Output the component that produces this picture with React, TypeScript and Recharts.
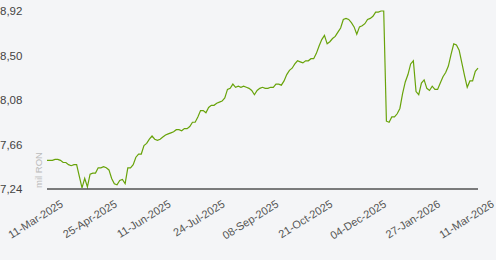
import { Line, LineChart, XAxis, YAxis } from "recharts";

const dateLabels = [
  "11-Mar-2025",
  "25-Apr-2025",
  "11-Jun-2025",
  "24-Jul-2025",
  "08-Sep-2025",
  "21-Oct-2025",
  "04-Dec-2025",
  "27-Jan-2026",
  "11-Mar-2026",
];

const yTicks = [7.24, 7.66, 8.08, 8.5, 8.92];

// mil RON, one point every ~2 trading days
const values = [
  7.51, 7.51, 7.51, 7.52, 7.52, 7.51, 7.49, 7.49, 7.47, 7.46,
  7.47, 7.47, 7.36, 7.25, 7.34, 7.26, 7.38, 7.39, 7.39, 7.44,
  7.44, 7.45, 7.44, 7.42, 7.34, 7.29, 7.28, 7.32, 7.33, 7.29,
  7.44, 7.44, 7.47, 7.54, 7.57, 7.57, 7.65, 7.67, 7.71, 7.74,
  7.71, 7.7, 7.71, 7.73, 7.75, 7.76, 7.77, 7.78, 7.8, 7.8,
  7.79, 7.81, 7.81, 7.83, 7.87, 7.87, 7.92, 7.98, 7.98, 7.96,
  8.01, 8.03, 8.03, 8.05, 8.06, 8.07, 8.1, 8.18, 8.19, 8.23,
  8.2, 8.21, 8.2, 8.21, 8.2, 8.19, 8.17, 8.13, 8.17, 8.19,
  8.2, 8.19, 8.19, 8.2, 8.2, 8.23, 8.23, 8.22, 8.26, 8.32,
  8.36, 8.38, 8.42, 8.45, 8.44, 8.43, 8.45, 8.45, 8.47, 8.47,
  8.52, 8.59, 8.65, 8.69, 8.61, 8.63, 8.66, 8.68, 8.72, 8.76,
  8.84, 8.85, 8.84, 8.81, 8.77, 8.7, 8.77, 8.78, 8.8, 8.84,
  8.85, 8.87, 8.91, 8.91, 8.92, 8.92, 7.88, 7.87, 7.92, 7.92,
  7.95, 8.0, 8.14, 8.25, 8.32, 8.42, 8.45, 8.16, 8.13, 8.24,
  8.27, 8.19, 8.17, 8.21, 8.18, 8.18, 8.24, 8.3, 8.34, 8.4,
  8.51, 8.61, 8.6, 8.55, 8.43, 8.31, 8.2, 8.26, 8.26, 8.35, 8.38,
];

const step = (values.length - 1) / (dateLabels.length - 1);
const xTicks = dateLabels.map((_, i) => i * step);
const data = values.map((v, i) => ({ i, v }));

const FONT = "'Liberation Sans', Arial, sans-serif";

function XTick(props: any) {
  const { x, y, payload } = props;
  const label = dateLabels[Math.round(payload.value / step)];
  const ax = x + 17;
  const ay = y + 17;
  return (
    <text
      x={ax}
      y={ay}
      textAnchor="end"
      fill="#555"
      fontSize={11}
      fontFamily={FONT}
      transform={`rotate(-32, ${ax}, ${ay})`}
    >
      {label}
    </text>
  );
}

function YTick(props: any) {
  const { y, payload } = props;
  return (
    <text x={0} y={y} dy={4} textAnchor="start" fill="#444" fontSize={11.5} fontFamily={FONT}>
      {Number(payload.value).toFixed(2).replace(".", ",")}
    </text>
  );
}

export default function App() {
  return (
    <div style={{ width: 496, height: 260, background: "#f4f5f7" }}>
      <style>{"body{margin:0}"}</style>
      <LineChart width={496} height={260} data={data} margin={{ top: 11, right: 18, left: 0, bottom: 0 }}>
        <XAxis
          dataKey="i"
          type="number"
          domain={[0, values.length - 1]}
          ticks={xTicks}
          interval={0}
          height={71}
          tickSize={0}
          tickMargin={0}
          tickLine={false}
          axisLine={{ stroke: "#000", strokeWidth: 1 }}
          tick={XTick}
        />
        <YAxis
          width={47}
          domain={[7.24, 8.92]}
          ticks={yTicks}
          interval={0}
          axisLine={false}
          tickLine={false}
          tick={YTick}
          label={{
            content: () => (
              <text
                x={42}
                y={188}
                transform="rotate(-90, 42, 188)"
                textAnchor="start"
                fill="#bbb"
                fontSize={9.5}
                fontFamily={FONT}
              >
                mil RON
              </text>
            ),
          }}
        />
        <Line
          dataKey="v"
          type="linear"
          stroke="#68a30a"
          strokeWidth={1.2}
          dot={false}
          isAnimationActive={false}
        />
      </LineChart>
    </div>
  );
}
